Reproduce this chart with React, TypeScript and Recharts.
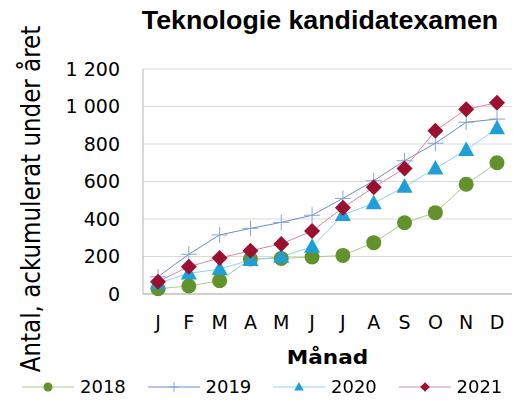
import React from "react";
import { LineChart, Line, XAxis, YAxis, CartesianGrid } from "recharts";

const months = ["J", "F", "M", "A", "M", "J", "J", "A", "S", "O", "N", "D"];
const y2018 = [28, 43, 71, 187, 190, 197, 206, 274, 380, 434, 585, 700];
const y2019 = [92, 212, 315, 350, 382, 420, 510, 604, 711, 804, 916, 933];
const y2020 = [57, 110, 133, 181, 199, 252, 421, 484, 572, 670, 768, 884];
const y2021 = [66, 146, 192, 231, 267, 336, 460, 569, 670, 871, 985, 1020];
const yTicks = [0, 200, 400, 600, 800, 1000, 1200];

const data = months.map((m, i) => ({
  key: i,
  month: m,
  s2018: y2018[i],
  s2019: y2019[i],
  s2020: y2020[i],
  s2021: y2021[i],
}));

type Kind = "circle" | "plus" | "triangle" | "diamond";

const SERIES: { key: string; name: string; line: string; mark: string; kind: Kind }[] = [
  { key: "s2018", name: "2018", line: "#aecb8e", mark: "#62922b", kind: "circle" },
  { key: "s2019", name: "2019", line: "#6a8cd0", mark: "#86a3dc", kind: "plus" },
  { key: "s2020", name: "2020", line: "#92d1ef", mark: "#1e9fd8", kind: "triangle" },
  { key: "s2021", name: "2021", line: "#d8899d", mark: "#9b0f30", kind: "diamond" },
];

const FONT = "'DejaVu Sans', Verdana, sans-serif";

function Marker({ kind, cx, cy, color, s = 1 }: { kind: Kind; cx: number; cy: number; color: string; s?: number }) {
  if (kind === "circle") return <circle cx={cx} cy={cy} r={7.5 * s} fill={color} />;
  if (kind === "plus")
    return (
      <path
        d={`M${cx - 8 * s},${cy}H${cx + 8 * s}M${cx},${cy - 8 * s}V${cy + 8 * s}`}
        stroke={color}
        strokeWidth={1}
        fill="none"
      />
    );
  if (kind === "triangle")
    return (
      <path
        d={`M${cx},${cy - 8.5 * s}L${cx + 8 * s},${cy + 6 * s}L${cx - 8 * s},${cy + 6 * s}Z`}
        fill={color}
      />
    );
  return (
    <path
      d={`M${cx},${cy - 8 * s}L${cx + 8 * s},${cy}L${cx},${cy + 8 * s}L${cx - 8 * s},${cy}Z`}
      fill={color}
    />
  );
}

const fmt = (v: number) => String(v).replace(/\B(?=(\d{3})+(?!\d))/g, " ");

export default function App() {
  return (
    <div style={{ position: "fixed", left: 0, top: 0, width: 513, height: 403, background: "#fff" }}>
      <LineChart width={513} height={403} data={data} margin={{ top: 69, right: 1, left: 0, bottom: 0 }}>
        <CartesianGrid vertical={false} stroke="#d9d9d9" />
        <XAxis
          dataKey="key"
          tickFormatter={(i: number) => months[i]}
          height={109}
          padding={{ left: 15, right: 15 }}
          tickLine={false}
          tickSize={0}
          tickMargin={22}
          stroke="#b3b3b3"
          tick={{ fill: "#000", fontSize: 19, fontFamily: FONT }}
          interval={0}
          label={{
            content: () => (
              <text
                transform="translate(327.5,364) scale(1.08,1)"
                textAnchor="middle"
                fontFamily={FONT}
                fontWeight="bold"
                fontSize={20}
                fill="#000"
              >
                Månad
              </text>
            ),
          }}
        />
        <YAxis
          domain={[0, 1200]}
          ticks={yTicks}
          width={143}
          tickLine={false}
          tickSize={0}
          tickMargin={23}
          stroke="#b3b3b3"
          tickFormatter={fmt}
          tick={{ fill: "#000", fontSize: 19, fontFamily: FONT }}
          label={{
            content: () => (
              <text
                transform="translate(40,199) scale(1.12,1) rotate(-90)"
                textAnchor="middle"
                fontFamily={FONT}
                fontSize={23}
                fill="#000"
              >
                Antal, ackumulerat under året
              </text>
            ),
          }}
        />
        {SERIES.map((s) => (
          <Line
            key={s.key}
            dataKey={s.key}
            stroke={s.line}
            strokeWidth={1}
            isAnimationActive={false}
            dot={(p: any) => <Marker key={`${s.key}-${p.index}`} kind={s.kind} cx={p.cx} cy={p.cy} color={s.mark} />}
            activeDot={false}
          />
        ))}
      </LineChart>
      <svg width={513} height={40} style={{ position: "absolute", left: 0, top: 0, pointerEvents: "none" }}>
        <text
          transform="translate(320,29) scale(1.03,1)"
          textAnchor="middle"
          fontFamily="'Liberation Sans', Arial, sans-serif"
          fontWeight="bold"
          fontSize={26}
          fill="#000"
        >
          Teknologie kandidatexamen
        </text>
      </svg>
      <div style={{ position: "absolute", top: 376, left: 22, display: "flex" }}>
        {SERIES.map((s) => (
          <div key={s.key} style={{ display: "flex", alignItems: "center", width: 125.5 }}>
            <svg width={52} height={22}>
              <line x1={0} y1={11} x2={52} y2={11} stroke={s.line} strokeWidth={1} />
              <Marker kind={s.kind} cx={26} cy={11} color={s.mark} s={0.6} />
            </svg>
            <span style={{ marginLeft: 6, fontSize: 18, fontFamily: FONT, lineHeight: "22px" }}>{s.name}</span>
          </div>
        ))}
      </div>
    </div>
  );
}
